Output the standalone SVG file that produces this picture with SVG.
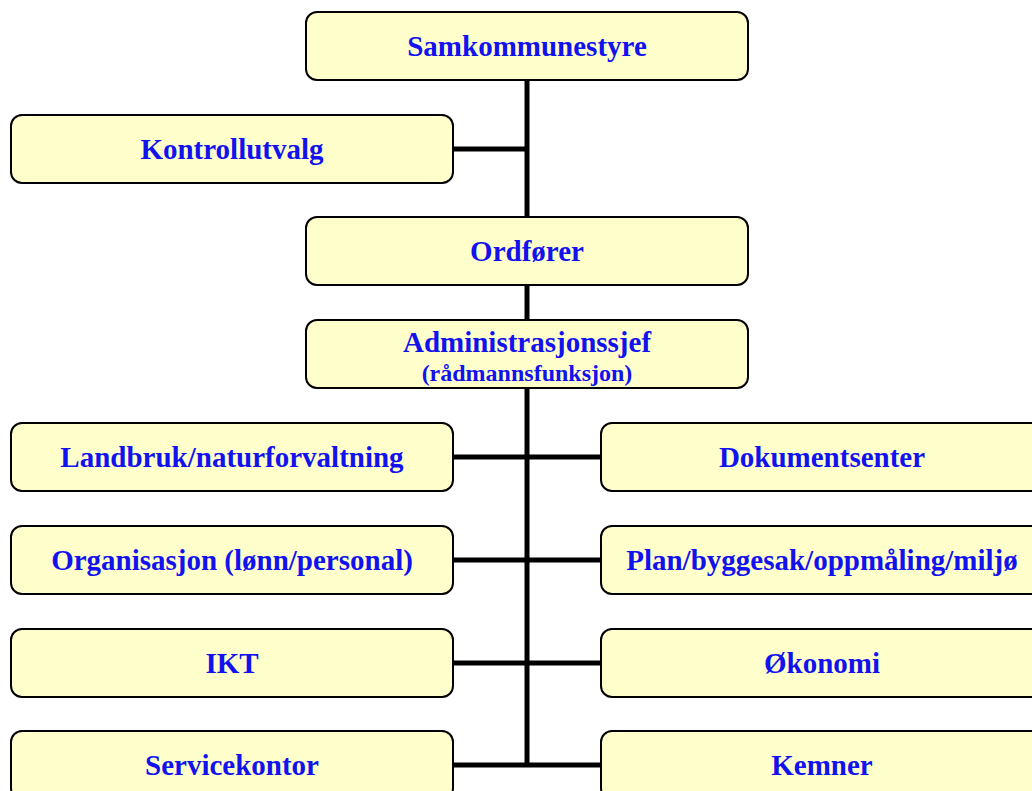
<svg xmlns="http://www.w3.org/2000/svg" width="1032" height="791" viewBox="0 0 1032 791">
<style>
.box{fill:#FFFFCC;stroke:#000;stroke-width:2}
.t{font-family:"Liberation Serif",serif;font-weight:bold;font-size:29px;fill:#1212EE;text-anchor:middle}
.s{font-size:24px}
.c{stroke:#000;stroke-width:5;fill:none}
</style>
<rect width="1032" height="791" fill="#fff"/>
<g id="connectors">
<line class="c" x1="527" y1="80" x2="527" y2="217"/>
<line class="c" x1="527" y1="285" x2="527" y2="320"/>
<line class="c" x1="527" y1="388" x2="527" y2="767"/>
<line class="c" x1="453" y1="149" x2="527" y2="149"/>
<line class="c" x1="453" y1="457" x2="601" y2="457"/>
<line class="c" x1="453" y1="560" x2="601" y2="560"/>
<line class="c" x1="453" y1="663" x2="601" y2="663"/>
<line class="c" x1="453" y1="765" x2="601" y2="765"/>
</g>
<g id="samkommunestyre"><rect class="box" x="306" y="12" width="442" height="68" rx="11"/><text class="t" x="527" y="56">Samkommunestyre</text></g>
<g id="kontrollutvalg"><rect class="box" x="11" y="115" width="442" height="68" rx="11"/><text class="t" x="232" y="159">Kontrollutvalg</text></g>
<g id="ordforer"><rect class="box" x="306" y="217" width="442" height="68" rx="11"/><text class="t" x="527" y="261">Ordfører</text></g>
<g id="administrasjonssjef"><rect class="box" x="306" y="320" width="442" height="68" rx="11"/><text class="t" x="527" y="352">Administrasjonssjef</text><text class="t s" x="527" y="381">(rådmannsfunksjon)</text></g>
<g id="landbruk"><rect class="box" x="11" y="423" width="442" height="68" rx="11"/><text class="t" x="232" y="467">Landbruk/naturforvaltning</text></g>
<g id="dokumentsenter"><rect class="box" x="601" y="423" width="442" height="68" rx="11"/><text class="t" x="822" y="467">Dokumentsenter</text></g>
<g id="organisasjon"><rect class="box" x="11" y="526" width="442" height="68" rx="11"/><text class="t" x="232" y="570">Organisasjon (lønn/personal)</text></g>
<g id="plan"><rect class="box" x="601" y="526" width="442" height="68" rx="11"/><text class="t" x="822" y="570">Plan/byggesak/oppmåling/miljø</text></g>
<g id="ikt"><rect class="box" x="11" y="629" width="442" height="68" rx="11"/><text class="t" x="232" y="673">IKT</text></g>
<g id="okonomi"><rect class="box" x="601" y="629" width="442" height="68" rx="11"/><text class="t" x="822" y="673">Økonomi</text></g>
<g id="servicekontor"><rect class="box" x="11" y="731" width="442" height="68" rx="11"/><text class="t" x="232" y="775">Servicekontor</text></g>
<g id="kemner"><rect class="box" x="601" y="731" width="442" height="68" rx="11"/><text class="t" x="822" y="775">Kemner</text></g>
</svg>
